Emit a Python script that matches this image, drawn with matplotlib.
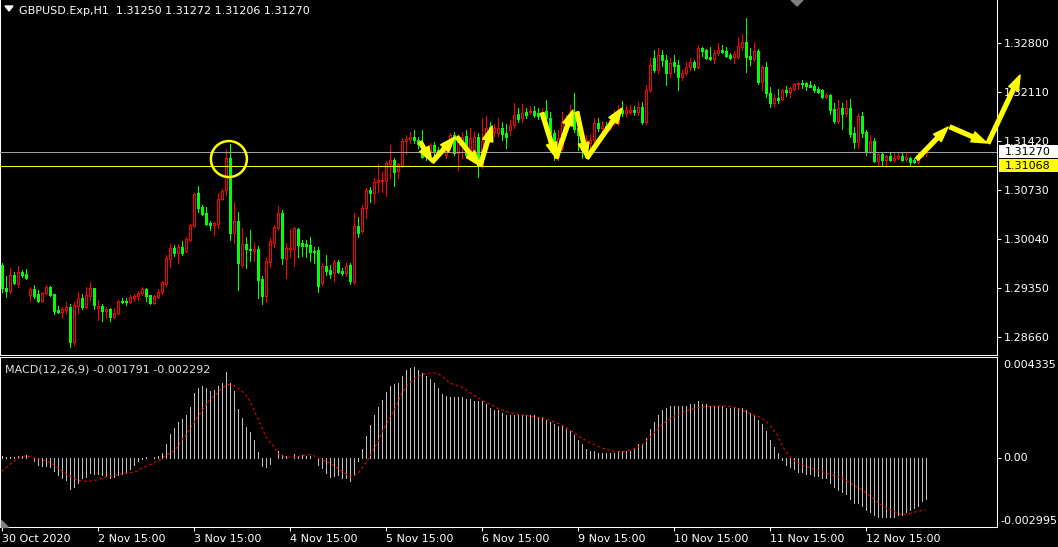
import matplotlib
matplotlib.use('Agg')
import matplotlib.pyplot as plt
import matplotlib.transforms as mtransforms
from matplotlib.patches import Rectangle, Ellipse, FancyArrowPatch, Polygon
import numpy as np

# GBPUSD H1 candles, 30 Oct 2020 15:00 .. 13 Nov 2020 06:00
opens = [
    1.2967, 1.2935, 1.2931, 1.2953, 1.2941, 1.2957, 1.2955, 1.2925, 1.2934, 1.2927,
    1.2917, 1.2928, 1.2936, 1.2927, 1.2904, 1.2901, 1.2904, 1.2908, 1.2859, 1.2910,
    1.2921, 1.2908, 1.2924, 1.2935, 1.2907, 1.2910, 1.2903, 1.2905, 1.2894, 1.2900,
    1.2917, 1.2917, 1.2915, 1.2921, 1.2924, 1.2928, 1.2934, 1.2925, 1.2914, 1.2922,
    1.2929, 1.2941, 1.2976, 1.2991, 1.2984, 1.2993, 1.2987, 1.3003, 1.3022, 1.3069,
    1.3049, 1.3041, 1.3027, 1.3024, 1.3025, 1.3060, 1.3073, 1.3118, 1.3012, 1.3029,
    1.2967, 1.2997, 1.2990, 1.2987, 1.2990, 1.2948, 1.2924, 1.2972, 1.2998, 1.3020,
    1.3041, 1.2976, 1.2990, 1.2990, 1.3018, 1.2998, 1.2997, 1.2996, 1.2987, 1.2989,
    1.2942, 1.2966, 1.2960, 1.2956, 1.2972, 1.2959, 1.2956, 1.2967, 1.2944, 1.3022,
    1.3015, 1.3048, 1.3073, 1.3069, 1.3084, 1.3086, 1.3086, 1.3110, 1.3115, 1.3100,
    1.3108, 1.3142, 1.3145, 1.3148, 1.3143, 1.3139, 1.3129, 1.3126, 1.3136, 1.3129,
    1.3129, 1.3122, 1.3133, 1.3150, 1.3125, 1.3135, 1.3149, 1.3119, 1.3129, 1.3148,
    1.3107, 1.3141, 1.3162, 1.3155, 1.3153, 1.3160, 1.3153, 1.3157, 1.3164, 1.3180,
    1.3174, 1.3183, 1.3183, 1.3184, 1.3181, 1.3177, 1.3184, 1.3174, 1.3153, 1.3119,
    1.3132, 1.3167, 1.3169, 1.3183, 1.3160, 1.3150, 1.3129, 1.3139, 1.3143, 1.3167,
    1.3160, 1.3163, 1.3160, 1.3167, 1.3167, 1.3186, 1.3181, 1.3183, 1.3186, 1.3183,
    1.3190, 1.3169, 1.3214, 1.3259, 1.3242, 1.3263, 1.3256, 1.3238, 1.3253, 1.3249,
    1.3232, 1.3238, 1.3246, 1.3253, 1.3246, 1.3273, 1.3270, 1.3260, 1.3258, 1.3266,
    1.3270, 1.3269, 1.3263, 1.3260, 1.3260, 1.3274, 1.3281, 1.3262, 1.3258, 1.3269,
    1.3225, 1.3246, 1.3210, 1.3196, 1.3203, 1.3201, 1.3214, 1.3211, 1.3215, 1.3222,
    1.3224, 1.3224, 1.3221, 1.3219, 1.3215, 1.3214, 1.3204, 1.3207, 1.3187, 1.3170,
    1.3188, 1.3181, 1.3188, 1.3153, 1.3141, 1.3177, 1.3155, 1.3126, 1.3142, 1.3114,
    1.3124, 1.3115, 1.3121, 1.3115, 1.3118, 1.3121, 1.3117, 1.3118, 1.3115, 1.3112,
    1.3121, 1.31250]
highs = [
    1.2970, 1.2952, 1.2963, 1.2957, 1.2966, 1.2960, 1.2962, 1.2936, 1.2939, 1.2932,
    1.2929, 1.2939, 1.2938, 1.2927, 1.2910, 1.2908, 1.2915, 1.2912, 1.2915, 1.2929,
    1.2927, 1.2936, 1.2944, 1.2935, 1.2918, 1.2912, 1.2908, 1.2907, 1.2907, 1.2918,
    1.2921, 1.2921, 1.2925, 1.2927, 1.2931, 1.2936, 1.2935, 1.2925, 1.2925, 1.2934,
    1.2945, 1.2981, 1.2997, 1.2996, 1.2997, 1.3001, 1.3007, 1.3025, 1.3069, 1.3079,
    1.3052, 1.3049, 1.3029, 1.3028, 1.3069, 1.3074, 1.3129, 1.3138, 1.3056, 1.3042,
    1.3020, 1.3007, 1.3017, 1.3000, 1.2994, 1.2952, 1.2979, 1.3005, 1.3024, 1.3050,
    1.3045, 1.2998, 1.3018, 1.3021, 1.3020, 1.3003, 1.3003, 1.3007, 1.2993, 1.2993,
    1.2970, 1.2981, 1.2967, 1.2974, 1.2974, 1.2963, 1.2970, 1.2970, 1.3041, 1.3035,
    1.3052, 1.3076, 1.3077, 1.3090, 1.3110, 1.3098, 1.3114, 1.3136, 1.3118, 1.3111,
    1.3146, 1.3150, 1.3155, 1.3157, 1.3148, 1.3157, 1.3133, 1.3139, 1.3141, 1.3133,
    1.3139, 1.3139, 1.3153, 1.3155, 1.3148, 1.3155, 1.3157, 1.3160, 1.3155, 1.3153,
    1.3174, 1.3177, 1.3169, 1.3166, 1.3174, 1.3169, 1.3166, 1.3171, 1.3195, 1.3188,
    1.3194, 1.3188, 1.3191, 1.3191, 1.3188, 1.3188, 1.3200, 1.3183, 1.3157, 1.3157,
    1.3183, 1.3179, 1.3193, 1.3210, 1.3164, 1.3157, 1.3150, 1.3150, 1.3174, 1.3174,
    1.3170, 1.3169, 1.3177, 1.3186, 1.3193, 1.3198, 1.3191, 1.3193, 1.3191, 1.3197,
    1.3197, 1.3221, 1.3259, 1.3270, 1.3273, 1.3270, 1.3263, 1.3259, 1.3263, 1.3256,
    1.3242, 1.3253, 1.3259, 1.3256, 1.3277, 1.3274, 1.3271, 1.3274, 1.3270, 1.3280,
    1.3277, 1.3274, 1.3266, 1.3269, 1.3288, 1.3293, 1.3315, 1.3273, 1.3281, 1.3271,
    1.3249, 1.3253, 1.3218, 1.3208, 1.3215, 1.3215, 1.3220, 1.3218, 1.3224, 1.3225,
    1.3228, 1.3225, 1.3227, 1.3222, 1.3218, 1.3215, 1.3210, 1.3208, 1.3195, 1.3200,
    1.3195, 1.3200, 1.3201, 1.3162, 1.3181, 1.3183, 1.3157, 1.3150, 1.3146, 1.3125,
    1.3125, 1.3122, 1.3125, 1.3126, 1.3126, 1.3126, 1.3125, 1.3119, 1.3118, 1.3125,
    1.3129, 1.31272]
lows = [
    1.2929, 1.2922, 1.2928, 1.2941, 1.2936, 1.2950, 1.2948, 1.2917, 1.2921, 1.2915,
    1.2915, 1.2927, 1.2924, 1.2898, 1.2900, 1.2893, 1.2900, 1.2852, 1.2855, 1.2900,
    1.2905, 1.2907, 1.2918, 1.2905, 1.2890, 1.2889, 1.2893, 1.2889, 1.2893, 1.2898,
    1.2914, 1.2911, 1.2914, 1.2917, 1.2918, 1.2925, 1.2917, 1.2912, 1.2912, 1.2921,
    1.2927, 1.2938, 1.2965, 1.2980, 1.2970, 1.2982, 1.2986, 1.3001, 1.3021, 1.3042,
    1.3038, 1.3024, 1.3017, 1.3010, 1.3020, 1.3059, 1.3066, 1.3003, 1.2998, 1.2932,
    1.2965, 1.2963, 1.2973, 1.2973, 1.2921, 1.2912, 1.2915, 1.2965, 1.2993, 1.3017,
    1.2969, 1.2949, 1.2979, 1.2966, 1.2979, 1.2980, 1.2979, 1.2973, 1.2970, 1.2929,
    1.2939, 1.2953, 1.2949, 1.2945, 1.2956, 1.2953, 1.2952, 1.2941, 1.2941, 1.3007,
    1.3012, 1.3034, 1.3056, 1.3055, 1.3070, 1.3070, 1.3065, 1.3090, 1.3079, 1.3090,
    1.3105, 1.3124, 1.3139, 1.3139, 1.3132, 1.3118, 1.3115, 1.3118, 1.3122, 1.3122,
    1.3125, 1.3118, 1.3129, 1.3122, 1.3101, 1.3118, 1.3119, 1.3115, 1.3118, 1.3091,
    1.3104, 1.3136, 1.3143, 1.3149, 1.3149, 1.3143, 1.3132, 1.3150, 1.3160, 1.3169,
    1.3169, 1.3174, 1.3180, 1.3176, 1.3173, 1.3171, 1.3169, 1.3149, 1.3115, 1.3115,
    1.3129, 1.3157, 1.3164, 1.3155, 1.3129, 1.3118, 1.3118, 1.3132, 1.3141, 1.3156,
    1.3156, 1.3153, 1.3157, 1.3164, 1.3164, 1.3177, 1.3176, 1.3180, 1.3179, 1.3179,
    1.3166, 1.3166, 1.3211, 1.3239, 1.3238, 1.3248, 1.3221, 1.3232, 1.3239, 1.3214,
    1.3228, 1.3235, 1.3242, 1.3242, 1.3245, 1.3262, 1.3258, 1.3256, 1.3252, 1.3263,
    1.3266, 1.3260, 1.3258, 1.3252, 1.3259, 1.3270, 1.3239, 1.3249, 1.3255, 1.3222,
    1.3214, 1.3204, 1.3190, 1.3191, 1.3196, 1.3200, 1.3205, 1.3204, 1.3214, 1.3215,
    1.3217, 1.3214, 1.3218, 1.3211, 1.3210, 1.3203, 1.3203, 1.3180, 1.3167, 1.3167,
    1.3159, 1.3177, 1.3148, 1.3132, 1.3132, 1.3148, 1.3122, 1.3125, 1.3112, 1.3107,
    1.3108, 1.3105, 1.3114, 1.3112, 1.3117, 1.3114, 1.3114, 1.3108, 1.3111, 1.3111,
    1.3119, 1.31206]
closes = [
    1.2935, 1.2931, 1.2953, 1.2942, 1.2957, 1.2953, 1.2949, 1.2934, 1.2924, 1.2917,
    1.2928, 1.2936, 1.2925, 1.2903, 1.2901, 1.2905, 1.2908, 1.2859, 1.2911, 1.2921,
    1.2908, 1.2925, 1.2935, 1.2911, 1.2910, 1.2903, 1.2905, 1.2894, 1.2900, 1.2917,
    1.2915, 1.2915, 1.2922, 1.2924, 1.2928, 1.2934, 1.2924, 1.2914, 1.2924, 1.2929,
    1.2944, 1.2977, 1.2991, 1.2984, 1.2993, 1.2984, 1.3004, 1.3024, 1.3067, 1.3048,
    1.3039, 1.3025, 1.3024, 1.3027, 1.3060, 1.3072, 1.3118, 1.3012, 1.3029, 1.2970,
    1.2997, 1.2990, 1.2989, 1.2990, 1.2946, 1.2924, 1.2973, 1.3001, 1.3021, 1.3041,
    1.2977, 1.2991, 1.2991, 1.3020, 1.2996, 1.2994, 1.2994, 1.2986, 1.2986, 1.2938,
    1.2966, 1.2959, 1.2955, 1.2972, 1.2957, 1.2956, 1.2966, 1.2945, 1.3022, 1.3012,
    1.3048, 1.3073, 1.3069, 1.3084, 1.3087, 1.3087, 1.3111, 1.3115, 1.3098, 1.3110,
    1.3142, 1.3145, 1.3148, 1.3143, 1.3138, 1.3119, 1.3122, 1.3136, 1.3126, 1.3125,
    1.3133, 1.3133, 1.3150, 1.3125, 1.3141, 1.3148, 1.3122, 1.3146, 1.3148, 1.3107,
    1.3142, 1.3160, 1.3155, 1.3160, 1.3160, 1.3152, 1.3148, 1.3164, 1.3179, 1.3173,
    1.3181, 1.3179, 1.3184, 1.3179, 1.3177, 1.3183, 1.3174, 1.3153, 1.3129, 1.3146,
    1.3169, 1.3170, 1.3181, 1.3159, 1.3150, 1.3129, 1.3143, 1.3143, 1.3167, 1.3160,
    1.3163, 1.3157, 1.3171, 1.3179, 1.3186, 1.3181, 1.3186, 1.3186, 1.3183, 1.3190,
    1.3169, 1.3214, 1.3249, 1.3242, 1.3263, 1.3256, 1.3238, 1.3252, 1.3248, 1.3232,
    1.3238, 1.3246, 1.3253, 1.3246, 1.3273, 1.3269, 1.3259, 1.3258, 1.3266, 1.3270,
    1.3267, 1.3262, 1.3259, 1.3265, 1.3276, 1.3281, 1.3260, 1.3258, 1.3269, 1.3225,
    1.3246, 1.3210, 1.3196, 1.3203, 1.3200, 1.3214, 1.3211, 1.3217, 1.3222, 1.3224,
    1.3222, 1.3219, 1.3218, 1.3214, 1.3211, 1.3204, 1.3207, 1.3186, 1.3170, 1.3188,
    1.3180, 1.3188, 1.3152, 1.3141, 1.3177, 1.3153, 1.3126, 1.3142, 1.3114, 1.3124,
    1.3115, 1.3121, 1.3115, 1.3118, 1.3121, 1.3115, 1.3119, 1.3112, 1.3112, 1.3122,
    1.3125, 1.31270]

# MACD(12,26,9): main (histogram) and signal
macd_main = [
    0.0001, 0.00003, 0.00004, 0.00004, 0.00007, 0.0001, 0.00013, 0.0, -0.00015, -0.0003,
    -0.00037, -0.00037, -0.0004, -0.00059, -0.00074, -0.00089, -0.00099, -0.00137, -0.00128, -0.00111,
    -0.00089, -0.00086, -0.00066, -0.00069, -0.00071, -0.00077, -0.00081, -0.00089, -0.00086, -0.00077,
    -0.00071, -0.0006, -0.00047, -0.0003, -0.00015, -0.00003, 0.00004, 0.00001, 0.00004, 0.0001,
    0.00022, 0.00063, 0.00108, 0.00133, 0.00158, 0.00174, 0.00189, 0.00226, 0.00288, 0.0031,
    0.0032, 0.0031, 0.00298, 0.003, 0.00317, 0.00332, 0.00379, 0.00332, 0.00295, 0.00217,
    0.00177, 0.00137, 0.00114, 0.00081, 0.00025, -0.00037, -0.0004, -0.00027, 0.0, 0.0003,
    0.00015, 0.0001, 0.0, 0.00019, 0.0001, 0.00015, 0.0001, 0.00007, 0.0, -0.0003,
    -0.00044, -0.00066, -0.00086, -0.00081, -0.00074, -0.00089, -0.00089, -0.00103, -0.00069, -0.00015,
    0.0004, 0.00099, 0.00148, 0.00192, 0.00226, 0.00255, 0.00291, 0.00317, 0.00325, 0.00332,
    0.00364, 0.00388, 0.00398, 0.00403, 0.00391, 0.00376, 0.00364, 0.00347, 0.00332, 0.0031,
    0.00285, 0.00273, 0.0027, 0.0027, 0.0027, 0.0027, 0.0026, 0.0026, 0.0025, 0.0025,
    0.0025, 0.0024, 0.0022, 0.0021, 0.0021, 0.0020, 0.0019, 0.0019, 0.0019, 0.0019,
    0.0019, 0.0019, 0.0019, 0.0019, 0.0018, 0.0018, 0.0017, 0.0016, 0.0015, 0.0014,
    0.0014, 0.0013, 0.0012, 0.0010, 0.0008, 0.0006, 0.0004, 0.0003, 0.0003, 0.0002,
    0.0002, 0.0002, 0.0002, 0.0002, 0.0003, 0.0003, 0.0003, 0.0003, 0.0004, 0.0006,
    0.0006, 0.0009, 0.0013, 0.0016, 0.0019, 0.0021, 0.0022, 0.0023, 0.0023, 0.0023,
    0.0023, 0.0023, 0.0024, 0.0024, 0.0025, 0.0024, 0.0024, 0.0023, 0.0023, 0.0023,
    0.0023, 0.0022, 0.0022, 0.0022, 0.0022, 0.0022, 0.0021, 0.0020, 0.0019, 0.0017,
    0.0015, 0.0012, 0.0008, 0.0005, 0.0002, -0.0001, -0.0003, -0.0004, -0.0005, -0.0006,
    -0.0006, -0.0007, -0.0007, -0.0008, -0.0008, -0.0009, -0.0009, -0.0011, -0.0013, -0.0014,
    -0.0015, -0.0016, -0.0018, -0.0020, -0.0020, -0.0021, -0.0023, -0.0024, -0.0025, -0.0026,
    -0.0026, -0.0026, -0.0026, -0.0026, -0.0025, -0.0025, -0.0024, -0.0023, -0.0022, -0.0021,
    -0.0019, -0.001791]
macd_signal = [
    -0.00059, -0.00045, -0.0003, -0.00015, -0.00002, 0.00006, 0.0001, 0.00006, 0.0, -0.00004,
    -0.00007, -0.00013, -0.0002, -0.0003, -0.00043, -0.00058, -0.0007, -0.0008, -0.00089, -0.00097,
    -0.00102, -0.00103, -0.00102, -0.001, -0.00096, -0.0009, -0.00085, -0.00081, -0.00078, -0.00074,
    -0.0007, -0.00068, -0.00065, -0.00063, -0.00056, -0.00046, -0.00037, -0.0003, -0.00022, -0.00013,
    -0.00003, 0.0001, 0.00022, 0.0003, 0.0005, 0.00078, 0.001, 0.00128, 0.00155, 0.0018,
    0.00208, 0.00232, 0.00255, 0.00273, 0.00288, 0.00308, 0.00318, 0.00325, 0.0032, 0.0031,
    0.00295, 0.0028, 0.00255, 0.00215, 0.00175, 0.00135, 0.00096, 0.0007, 0.00052, 0.0002,
    0.0001, 0.00005, 0.00003, 0.00004, 0.00007, 0.0001, 0.00013, 0.00015, 0.0001, 0.0,
    -0.00008, -0.00015, -0.00022, -0.00033, -0.00045, -0.00058, -0.0007, -0.00081, -0.00078, -0.0007,
    -0.00045, -0.00022, 0.00005, 0.0004, 0.0007, 0.00111, 0.00145, 0.00178, 0.00207, 0.00245,
    0.00285, 0.00312, 0.00332, 0.00347, 0.00358, 0.00367, 0.00372, 0.00375, 0.00376, 0.00372,
    0.00363, 0.00348, 0.00332, 0.00325, 0.0032, 0.00314, 0.00302, 0.0029, 0.00278, 0.00267,
    0.00256, 0.00247, 0.00238, 0.0023, 0.0022, 0.00212, 0.00207, 0.00202, 0.00197, 0.00193,
    0.0019, 0.00188, 0.00185, 0.00182, 0.0018, 0.00177, 0.00172, 0.00167, 0.0016, 0.00153,
    0.00146, 0.00136, 0.00125, 0.00112, 0.001, 0.00088, 0.00078, 0.00068, 0.0006, 0.00052,
    0.00044, 0.0004, 0.00035, 0.0003, 0.00028, 0.00027, 0.0003, 0.00035, 0.0004, 0.00048,
    0.00057, 0.00073, 0.0009, 0.00108, 0.00127, 0.00146, 0.0016, 0.00172, 0.00183, 0.00192,
    0.002, 0.00207, 0.00213, 0.00218, 0.00222, 0.00225, 0.00227, 0.00229, 0.0023, 0.0023,
    0.0023, 0.0023, 0.00228, 0.00225, 0.00221, 0.0021, 0.00205, 0.00198, 0.0019, 0.00184,
    0.00177, 0.00165, 0.00145, 0.00122, 0.001, 0.00057, 0.0003, 0.0001, -0.0001, -0.0002,
    -0.0003, -0.00036, -0.00042, -0.00048, -0.00054, -0.0006, -0.00066, -0.00072, -0.00077, -0.00082,
    -0.00088, -0.00098, -0.00108, -0.0012, -0.0013, -0.0014, -0.00153, -0.00167, -0.0018, -0.00195,
    -0.00208, -0.00218, -0.00228, -0.00236, -0.00243, -0.0025, -0.00248, -0.00245, -0.0024, -0.00236,
    -0.00232, -0.002292]

date_ticks = [0, 24, 48, 72, 96, 120, 144, 168, 192, 216]
date_labels = ['30 Oct 2020', '2 Nov 15:00', '3 Nov 15:00', '4 Nov 15:00', '5 Nov 15:00',
               '6 Nov 15:00', '9 Nov 15:00', '10 Nov 15:00', '11 Nov 15:00', '12 Nov 15:00']
price_ticks = [1.28660, 1.29350, 1.30040, 1.30730, 1.31420, 1.32110, 1.32800]
macd_ticks = [0.004335, 0.0, -0.002995]

grey_level = 1.31270
yellow_level = 1.31068

# drawings on the chart: arrows (bar, price) -> (bar, price) and the circle
arrows = [
    ((104.6, 1.31406), (107.6, 1.31124)),
    ((107.6, 1.31124), (113.3, 1.31476)),
    ((113.8, 1.31476), (119.6, 1.31068)),
    ((119.6, 1.31068), (122.6, 1.31631)),
    ((135.1, 1.31814), (138.6, 1.31180)),
    ((138.6, 1.31180), (142.8, 1.31856)),
    ((143.8, 1.31828), (146.3, 1.31180)),
    ((146.3, 1.31180), (155.1, 1.31884)),
    ((228.8, 1.31166), (236.6, 1.31617)),
    ((237.1, 1.31617), (246.3, 1.31392)),
    ((246.6, 1.31392), (254.6, 1.32349)),
]
circle_center = (56.8, 1.31166)

W, H = 1058, 547
fig = plt.figure(figsize=(W / 100, H / 100), dpi=100, facecolor='black')
plt.rcParams['font.family'] = ['DejaVu Sans']


def box(left, top, right, bottom):
    return [left / W, 1 - bottom / H, (right - left) / W, (bottom - top) / H]


def px(x, y):
    return (x / W, 1 - y / H)


ax = fig.add_axes(box(0, 0, 997, 355))
ax2 = fig.add_axes(box(0, 357, 997, 527), sharex=ax)

o = np.array(opens)
h = np.array(highs)
l = np.array(lows)
c = np.array(closes)
x = np.arange(len(c))
up = c > o
cols = np.where(up, '#ff0000', '#00ff00')

thin = 0.5  # one pixel
ax.vlines(x, l, h, colors=cols, lw=thin, antialiased=False, zorder=2)
bot = np.minimum(o, c)
hgt = np.abs(c - o)
ax.bar(x[up], hgt[up], bottom=bot[up], width=0.6, facecolor='black',
       edgecolor='#ff0000', linewidth=thin, antialiased=False, zorder=3)
ax.bar(x[~up], hgt[~up], bottom=bot[~up], width=0.6, facecolor='#00ff00',
       edgecolor='#00ff00', linewidth=thin, antialiased=False, zorder=3)

ax.axhline(grey_level, color='#a0a0a0', lw=0.75, zorder=4)
ax.axhline(yellow_level, color='#ffff00', lw=0.75, zorder=4)

for (a, b) in arrows:
    ar = FancyArrowPatch(a, b, arrowstyle='simple,head_length=1.0,head_width=0.7,tail_width=0.25',
                         mutation_scale=11, color='#ffff00', shrinkA=0, shrinkB=0,
                         clip_on=False, zorder=6)
    ax.add_patch(ar)
ax.add_patch(Ellipse(circle_center, 9.0, 0.00507, fill=False, ec='#ffff00', lw=1.8, zorder=6))

ax.set_facecolor('black')
ax.set_xlim(-0.425, 248.825)
ax.set_ylim(1.28407, 1.33405)
ax.yaxis.tick_right()
ax.set_yticks(price_ticks)
ax.set_yticklabels(['%.5f' % v for v in price_ticks])
ax.tick_params(axis='y', colors='white', labelsize=8, length=3, width=0.75, pad=2)
ax.tick_params(axis='x', bottom=False, labelbottom=False)
for s in ax.spines.values():
    s.set_color('white')
    s.set_linewidth(0.75)
ax.spines['top'].set_visible(False)

# MACD panel
ax2.set_facecolor('black')
ax2.vlines(x, 0, macd_main, colors='#c0c0c0', lw=thin, antialiased=False)
ax2.plot(x, macd_signal, color='#ff0000', lw=0.75, linestyle=(0, (2.5, 2.5)))
ax2.set_ylim(-0.00305, 0.004464)
ax2.yaxis.tick_right()
ax2.set_yticks([0.0])
ax2.set_yticklabels([''])
ax2.tick_params(axis='y', colors='white', length=3, width=0.75)
ax2.set_xticks(date_ticks)
ax2.set_xticklabels(date_labels)
ax2.tick_params(axis='x', colors='white', labelsize=8, length=3, width=0.75, pad=2)
for lbl in ax2.get_xticklabels():
    lbl.set_ha('left')
for s in ax2.spines.values():
    s.set_color('white')
    s.set_linewidth(0.75)

yt = ax2.get_yaxis_transform()
ax2.text(1.006, macd_ticks[0], '%.6f' % macd_ticks[0], transform=yt, color='white',
         fontsize=8, va='top', ha='left')
ax2.text(1.006, macd_ticks[1], '0.00', transform=yt, color='white',
         fontsize=8, va='center', ha='left')
ax2.text(1.003, macd_ticks[2], '%.6f' % macd_ticks[2], transform=yt, color='white',
         fontsize=8, va='bottom', ha='left')

# current price / level boxes on the price scale
blend = mtransforms.blended_transform_factory(fig.transFigure, ax.transData)
hh = 0.000915
fig.add_artist(Rectangle((999 / W, grey_level - hh), 59 / W, 2 * hh, transform=blend,
                         facecolor='white', edgecolor='none', zorder=5))
fig.add_artist(Rectangle((999 / W, yellow_level - hh), 59 / W, 2 * hh, transform=blend,
                         facecolor='#ffff00', edgecolor='none', zorder=5))
fig.text(1005 / W, grey_level, '%.5f' % grey_level, transform=blend, color='black',
         fontsize=8, va='center', zorder=6)
fig.text(1005 / W, yellow_level, '%.5f' % yellow_level, transform=blend, color='black',
         fontsize=8, va='center', zorder=6)

# header texts and small markers
fig.add_artist(Polygon([px(5, 6), px(13, 6), px(9, 11)], closed=True, color='white',
                       transform=fig.transFigure))
fig.text(19 / W, 1 - 11 / H, 'GBPUSD.Exp,H1  %.5f %.5f %.5f %.5f' % (opens[-1], highs[-1], lows[-1], closes[-1]),
         color='white', fontsize=8, va='center')
fig.text(5 / W, 1 - 369 / H, 'MACD(12,26,9) %.6f %.6f' % (macd_main[-1], macd_signal[-1]),
         color='#e0e0e0', fontsize=8, va='center')
fig.add_artist(Polygon([px(791, 0), px(803, 0), px(797, 6)], closed=True, color='#808080',
                       transform=fig.transFigure))
fig.add_artist(Polygon([px(1, 520), px(1, 527), px(8, 527)], closed=True, color='#808080',
                       transform=fig.transFigure))

fig.savefig('out.png', dpi=100, facecolor='black')
